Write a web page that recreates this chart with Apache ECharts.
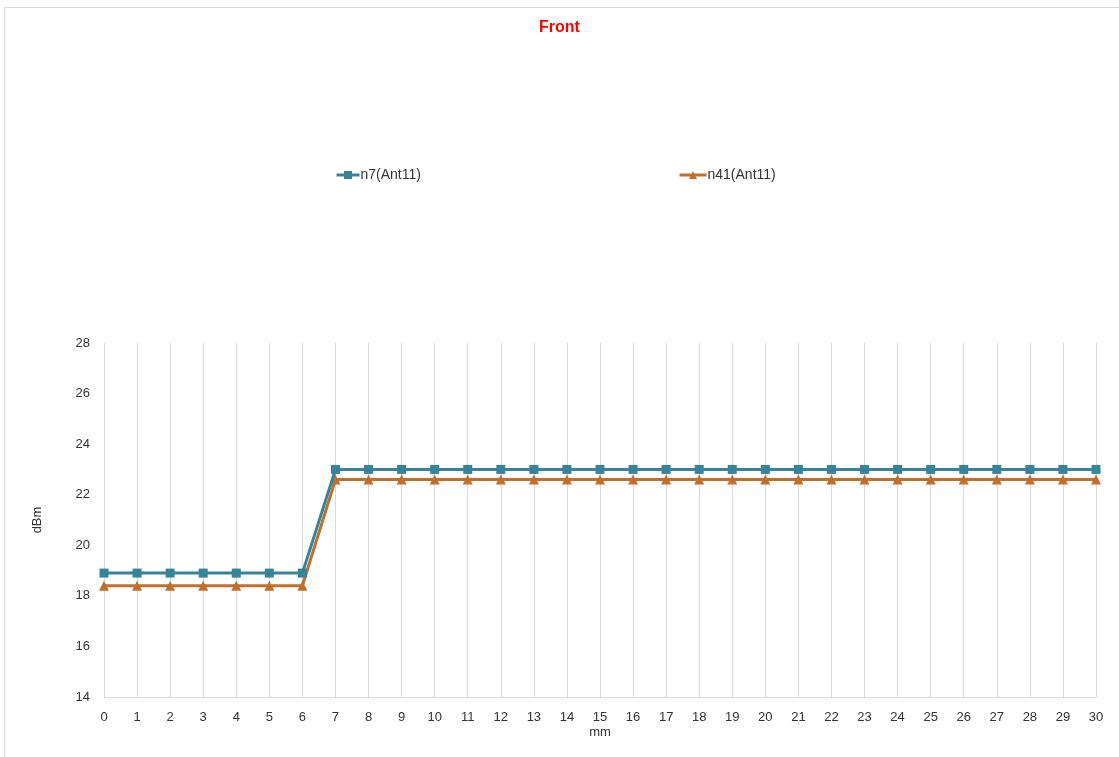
<!DOCTYPE html>
<html>
<head>
<meta charset="utf-8">
<script src="https://cdn.jsdelivr.net/npm/echarts@6/dist/echarts.min.js"></script>
<style>
    html, body { margin: 0; padding: 0; background: #fff; }
    #frame { position: absolute; left: 4px; top: 7px; width: 1200px; height: 800px;
             border-top: 1px solid #d9d9d9; border-left: 1px solid #d9d9d9; }
    #myChart { position: absolute; left: 0; top: 0; width: 1119px; height: 757px; }
</style>
</head>
<body>
<div id="frame"></div>
<div id="myChart"></div>
<script>
// 横轴 mm
var positions = ['0', '1', '2', '3', '4', '5', '6', '7', '8', '9', '10',
    '11', '12', '13', '14', '15', '16', '17', '18', '19', '20',
    '21', '22', '23', '24', '25', '26', '27', '28', '29', '30'];

// dBm
var n7 = [18.9, 18.9, 18.9, 18.9, 18.9, 18.9, 18.9,
    23, 23, 23, 23, 23, 23, 23, 23, 23, 23, 23, 23, 23, 23, 23, 23, 23, 23, 23, 23, 23, 23, 23, 23, 23];
var n41 = [18.4, 18.4, 18.4, 18.4, 18.4, 18.4, 18.4,
    22.6, 22.6, 22.6, 22.6, 22.6, 22.6, 22.6, 22.6, 22.6, 22.6, 22.6, 22.6, 22.6, 22.6, 22.6, 22.6, 22.6, 22.6, 22.6, 22.6, 22.6, 22.6, 22.6, 22.6, 22.6];

var seriesNames = ['n7(Ant11)', 'n41(Ant11)'];

window.onload = function () {
    var myChart = echarts.init(document.getElementById('myChart'));

    var font = 'Liberation Sans, Arial, sans-serif';

    var option = {
        animation: false,
        title: {
            text: 'Front',
            left: 'center',
            top: 15,
            textStyle: {color: '#ff0000', fontSize: 16, fontWeight: 'bold', fontFamily: font}
        },
        legend: [{
            data: [seriesNames[0]],
            left: 330,
            top: 163,
            itemWidth: 23,
            itemHeight: 10,
            lineStyle: {width: 3},
            textStyle: {fontSize: 14, color: '#333', fontFamily: font, padding: [0, 0, 0, -4]}
        }, {
            data: [seriesNames[1]],
            left: 673,
            top: 163,
            itemWidth: 27,
            itemHeight: 10,
            lineStyle: {width: 3},
            textStyle: {fontSize: 14, color: '#333', fontFamily: font, padding: [0, 0, 0, -4]}
        }],
        grid: {
            left: 104,
            right: 23,
            top: 343,
            bottom: 60
        },
        xAxis: {
            type: 'category',
            data: positions,
            boundaryGap: false,
            name: 'mm',
            nameLocation: 'middle',
            nameGap: 29,
            nameTextStyle: {fontSize: 13, color: '#333', fontFamily: font},
            axisTick: {show: false},
            axisLine: {lineStyle: {color: '#d9d9d9'}},
            axisLabel: {margin: 14, fontSize: 13, color: '#333', fontFamily: font, interval: 0},
            splitLine: {show: true, lineStyle: {color: '#d9d9d9'}}
        },
        yAxis: {
            type: 'value',
            min: 14,
            max: 28,
            interval: 2,
            name: 'dBm',
            nameLocation: 'middle',
            nameGap: 60,
            nameTextStyle: {fontSize: 13, color: '#333', fontFamily: font},
            axisLine: {show: true, lineStyle: {color: '#d9d9d9'}},
            axisTick: {show: false},
            axisLabel: {margin: 14, fontSize: 13, color: '#333', fontFamily: font},
            splitLine: {show: false}
        },
        series: [{
            name: seriesNames[0],
            type: 'line',
            data: n7,
            symbol: 'rect',
            symbolSize: 9,
            lineStyle: {width: 3, color: '#36849A'},
            itemStyle: {color: '#36849A'},
            z: 3
        }, {
            name: seriesNames[1],
            type: 'line',
            data: n41,
            symbol: 'triangle',
            symbolSize: 10,
            lineStyle: {width: 3, color: '#C26F2C'},
            itemStyle: {color: '#C26F2C'},
            z: 2
        }]
    };

    myChart.setOption(option);
};
</script>
</body>
</html>
